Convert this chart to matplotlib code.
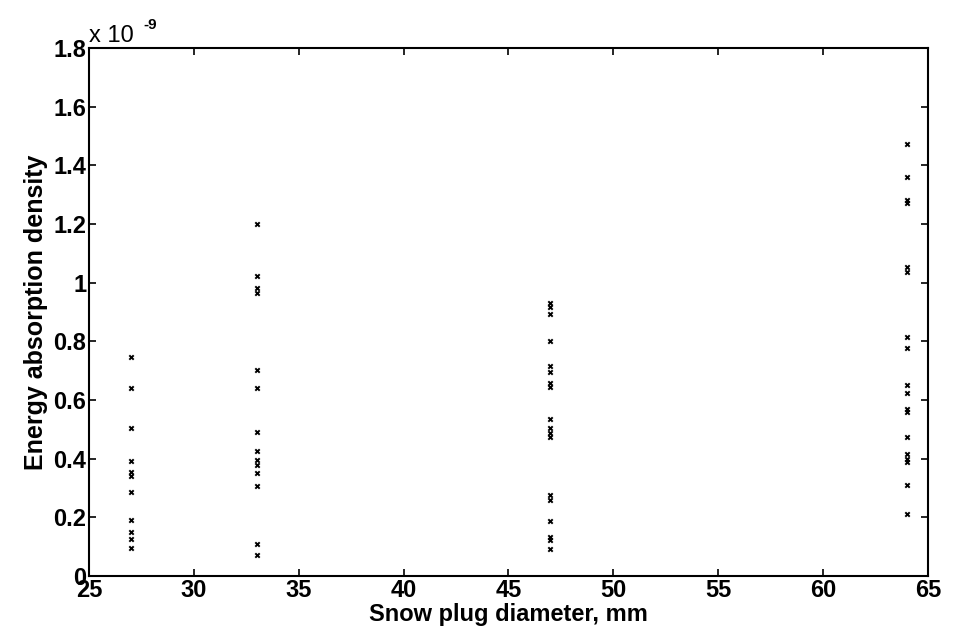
import matplotlib.pyplot as plt
from matplotlib.ticker import FuncFormatter

# energy absorption density values, in units of 1e-9
d27 = [0.748, 0.640, 0.503, 0.392, 0.356, 0.342, 0.285, 0.191, 0.149, 0.126, 0.094]
d33 = [1.200, 1.023, 0.981, 0.964, 0.702, 0.640, 0.490, 0.427, 0.395, 0.378,
       0.352, 0.307, 0.109, 0.072]
d47 = [0.930, 0.918, 0.893, 0.801, 0.716, 0.697, 0.659, 0.645, 0.534, 0.503,
       0.487, 0.475, 0.276, 0.259, 0.189, 0.134, 0.123, 0.091]
d64 = [1.473, 1.359, 1.282, 1.271, 1.055, 1.038, 0.816, 0.776, 0.651, 0.623,
       0.570, 0.560, 0.475, 0.415, 0.400, 0.390, 0.310, 0.210]
diameters = [27, 33, 47, 64]
groups = [d27, d33, d47, d64]

x_ticks = [25, 30, 35, 40, 45, 50, 55, 60, 65]
y_ticks = [0, 0.2, 0.4, 0.6, 0.8, 1.0, 1.2, 1.4, 1.6, 1.8]

plt.rcParams['font.family'] = ['Liberation Sans', 'DejaVu Sans']
fig = plt.figure(figsize=(9.55, 6.39), dpi=100)
ax = fig.add_axes([0.0932, 0.0986, 0.8785, 0.8263])

#     one column of crosses per plug diameter
for d, vals in zip(diameters, groups):
    xs = [d] * len(vals)
    ys = [v * 1e-9 for v in vals]
    ax.scatter(xs, ys, marker="x", color="k", s=10, linewidths=1.4)

ax.set_xlim(25, 65)
ax.set_ylim(0, 1.8e-9)
ax.set_xticks(x_ticks)
ax.set_yticks([t * 1e-9 for t in y_ticks])
ax.yaxis.set_major_formatter(FuncFormatter(lambda v, p: "%g" % round(v * 1e9, 1)))
ax.tick_params(direction="in", top=True, right=True, length=5, width=1.2,
               labelsize=17, pad=2)
for lab in ax.get_xticklabels() + ax.get_yticklabels():
    lab.set_fontweight("bold")
for sp in ax.spines.values():
    sp.set_linewidth(1.5)

#     matlab style exponent above the y axis
ax.text(0.0, 1.002, "x 10", transform=ax.transAxes, fontsize=17,
        ha="left", va="bottom")
ax.text(0.065, 1.03, "-9", transform=ax.transAxes, fontsize=11,
        fontweight="bold", ha="left", va="bottom")
ax.set_xlabel("Snow plug diameter, mm", fontsize=17, fontweight="bold", labelpad=1)
ax.set_ylabel("Energy absorption density", fontsize=18, fontweight="bold", labelpad=4)

plt.savefig("out.png", dpi=100)
